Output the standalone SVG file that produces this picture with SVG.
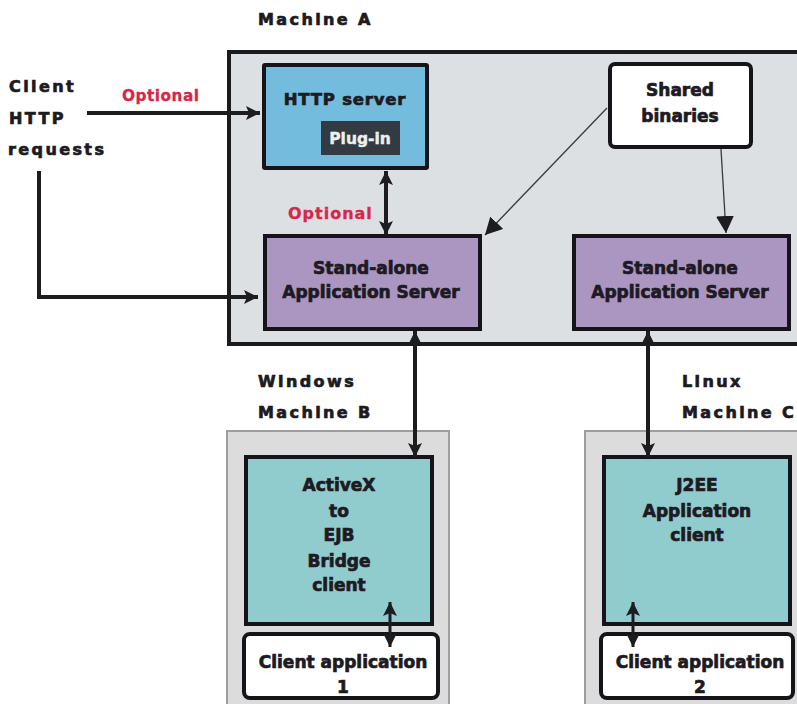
<svg xmlns="http://www.w3.org/2000/svg" width="797" height="704" viewBox="0 0 797 704">
<style>
text{font-family:"DejaVu Sans",Verdana,sans-serif;font-weight:700;font-size:17px;fill:#1d1a22;stroke:#1d1a22;stroke-width:.7px}
.c{text-anchor:middle}
.sp{font-size:16px;letter-spacing:2.4px}
.opt{fill:#d6274a;stroke:#d6274a;font-size:15.3px;letter-spacing:.5px;stroke-width:.3px}
.box{stroke:#15141a;stroke-width:4px}
.con{fill:none;stroke:#1d1c1e;stroke-width:4px}
.thin{fill:none;stroke:#3a3a3c;stroke-width:1.3px}
</style>
<defs>
<marker id="a" markerUnits="userSpaceOnUse" markerWidth="14" markerHeight="14" refX="14" refY="7" orient="auto-start-reverse"><path d="M0 0L14 7L0 14L3 7Z" fill="#1d1c1e"/></marker>
<marker id="t" markerUnits="userSpaceOnUse" markerWidth="18" markerHeight="18" refX="17" refY="9" orient="auto"><path d="M0 0L17 9L0 18Z" fill="#1d1c1e"/></marker>
</defs>
<rect width="797" height="704" fill="#fff"/>
<g id="machine-a">
<rect x="229" y="52" width="572" height="292" fill="#dde0e3" stroke="#1b1b1d" stroke-width="4"/>
<text x="258" y="25" class="sp">Machine A</text>
</g>
<g id="client-http-requests">
<text x="9" y="92" class="sp">Client</text>
<text x="9" y="124" class="sp">HTTP</text>
<text x="8" y="155" class="sp">requests</text>
</g>
<g id="http-server">
<rect x="264" y="65" width="163" height="103" rx="1" fill="#74bcdd" class="box"/>
<text x="345" y="105" class="c" style="font-size:16.5px;letter-spacing:.8px">HTTP server</text>
</g>
<g id="plug-in">
<rect x="321" y="121" width="79" height="34" fill="#333b42"/>
<text x="360" y="144" class="c" style="fill:#eef0f0;stroke:#eef0f0;stroke-width:.4px;font-size:15.5px">Plug-in</text>
</g>
<g id="shared-binaries">
<rect x="610" y="64" width="141" height="83" rx="5" fill="#fff" class="box"/>
<text x="680" y="96" class="c">Shared</text>
<text x="680" y="122" class="c">binaries</text>
</g>
<g id="app-server-1">
<rect x="265" y="236" width="215" height="93" fill="#ab96c2" class="box"/>
<text x="371" y="274" class="c">Stand-alone</text>
<text x="371" y="298" class="c">Application Server</text>
</g>
<g id="app-server-2">
<rect x="574" y="236" width="215" height="93" fill="#ab96c2" class="box"/>
<text x="680" y="274" class="c">Stand-alone</text>
<text x="680" y="298" class="c">Application Server</text>
</g>
<g id="machine-b">
<rect x="227" y="431" width="222" height="280" fill="#dcdcdc" stroke="#9d9d9d" stroke-width="2"/>
<text x="258" y="387" class="sp">Windows</text>
<text x="258" y="418" class="sp">Machine B</text>
</g>
<g id="activex-client">
<rect x="246" y="457" width="186" height="167" fill="#90cbcd" class="box"/>
<text x="339" y="491" class="c">ActiveX</text>
<text x="339" y="517" class="c">to</text>
<text x="339" y="541" class="c">EJB</text>
<text x="339" y="567" class="c">Bridge</text>
<text x="339" y="591" class="c">client</text>
</g>
<g id="client-app-1">
<rect x="244" y="634" width="194" height="64" rx="6" fill="#fff" class="box"/>
<text x="343" y="668" class="c">Client application</text>
<text x="343" y="693" class="c">1</text>
</g>
<g id="machine-c">
<rect x="585" y="431" width="222" height="280" fill="#dcdcdc" stroke="#9d9d9d" stroke-width="2"/>
<text x="682" y="387" class="sp">Linux</text>
<text x="682" y="418" class="sp">Machine C</text>
</g>
<g id="j2ee-client">
<rect x="604" y="457" width="186" height="167" fill="#90cbcd" class="box"/>
<text x="697" y="491" class="c">J2EE</text>
<text x="697" y="517" class="c">Application</text>
<text x="697" y="541" class="c">client</text>
</g>
<g id="client-app-2">
<rect x="601" y="634" width="192" height="64" rx="6" fill="#fff" class="box"/>
<text x="700" y="668" class="c">Client application</text>
<text x="700" y="693" class="c">2</text>
</g>
<g id="labels">
<text x="122" y="101" class="opt">Optional</text>
<text x="288" y="219" class="opt" style="letter-spacing:1px;font-size:16px">Optional</text>
</g>
<g id="connectors">
<path class="con" d="M87 113H260" marker-end="url(#a)"/>
<path class="con" d="M39 171V297H258" marker-end="url(#a)"/>
<path class="con" d="M386 171V235" marker-start="url(#a)" marker-end="url(#a)"/>
<path class="con" d="M415 331V457" marker-start="url(#a)" marker-end="url(#a)"/>
<path class="con" d="M648 331V457" marker-start="url(#a)" marker-end="url(#a)"/>
<path class="con" style="stroke-width:3px" d="M390 602V647" marker-start="url(#a)" marker-end="url(#a)"/>
<path class="con" style="stroke-width:3px" d="M633 602V647" marker-start="url(#a)" marker-end="url(#a)"/>
<path class="thin" d="M607 108L485 235" marker-end="url(#t)"/>
<path class="thin" d="M721 149L726 233" marker-end="url(#t)"/>
</g>
</svg>
